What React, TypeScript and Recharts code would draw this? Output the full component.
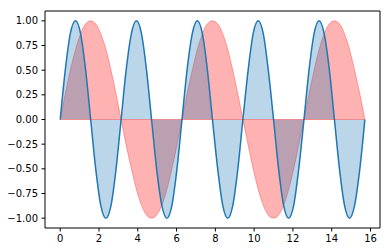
import React from "react";
import { ComposedChart, Area, XAxis, YAxis, ReferenceArea, ReferenceLine } from "recharts";

// x samples, 0 .. 5π
const xs = [
  0, 0.26, 0.52, 0.79, 1.05, 1.31, 1.57, 1.83, 2.09, 2.36, 2.62, 2.88,
  3.14, 3.4, 3.67, 3.93, 4.19, 4.45, 4.71, 4.97, 5.24, 5.5, 5.76, 6.02,
  6.28, 6.54, 6.81, 7.07, 7.33, 7.59, 7.85, 8.12, 8.38, 8.64, 8.9, 9.16,
  9.42, 9.69, 9.95, 10.21, 10.47, 10.73, 11.0, 11.26, 11.52, 11.78, 12.04, 12.3,
  12.57, 12.83, 13.09, 13.35, 13.61, 13.88, 14.14, 14.4, 14.66, 14.92, 15.18, 15.45,
  15.71,
];

// blue curve (fast wave)
const blue = [
  0, 0.5, 0.87, 1, 0.87, 0.5, 0, -0.5, -0.87, -1, -0.87, -0.5,
  0, 0.5, 0.87, 1, 0.87, 0.5, 0, -0.5, -0.87, -1, -0.87, -0.5,
  0, 0.5, 0.87, 1, 0.87, 0.5, 0, -0.5, -0.87, -1, -0.87, -0.5,
  0, 0.5, 0.87, 1, 0.87, 0.5, 0, -0.5, -0.87, -1, -0.87, -0.5,
  0, 0.5, 0.87, 1, 0.87, 0.5, 0, -0.5, -0.87, -1, -0.87, -0.5,
  0,
];

// red curve (slow wave)
const red = [
  0, 0.26, 0.5, 0.71, 0.87, 0.97, 1, 0.97, 0.87, 0.71, 0.5, 0.26,
  0, -0.26, -0.5, -0.71, -0.87, -0.97, -1, -0.97, -0.87, -0.71, -0.5, -0.26,
  0, 0.26, 0.5, 0.71, 0.87, 0.97, 1, 0.97, 0.87, 0.71, 0.5, 0.26,
  0, -0.26, -0.5, -0.71, -0.87, -0.97, -1, -0.97, -0.87, -0.71, -0.5, -0.26,
  0, 0.26, 0.5, 0.71, 0.87, 0.97, 1, 0.97, 0.87, 0.71, 0.5, 0.26,
  0,
];

const xTicks = [0, 2, 4, 6, 8, 10, 12, 14, 16];
const yTicks = [-1, -0.75, -0.5, -0.25, 0, 0.25, 0.5, 0.75, 1];

const data = xs.map((x, i) => ({ x, blue: blue[i], red: red[i] }));

const fmtY = (v: number) => (v < 0 ? "\u2212" : "") + Math.abs(v).toFixed(2);

const tickStyle = { fill: "#000", fontSize: 10, fontFamily: "DejaVu Sans" };

export default function App() {
  const x0 = xs[0];
  const x1 = xs[xs.length - 1];
  return (
    <div style={{ position: "absolute", left: 0, top: 0, width: 390, height: 252, background: "#fff" }}>
      <ComposedChart width={390} height={252} data={data} margin={{ top: 11, right: 10, bottom: 0, left: 0 }}>
        <XAxis
          dataKey="x"
          type="number"
          domain={[-0.785, 16.49]}
          ticks={xTicks}
          height={24}
          tick={tickStyle}
          tickSize={3.5}
          tickMargin={3.5}
          axisLine={false}
          tickLine={{ stroke: "#000" }}
          allowDataOverflow
        />
        <YAxis
          type="number"
          domain={[-1.1, 1.1]}
          ticks={yTicks}
          width={45}
          tick={tickStyle}
          tickSize={3.5}
          tickMargin={3.5}
          tickFormatter={fmtY}
          axisLine={false}
          tickLine={{ stroke: "#000" }}
          allowDataOverflow
        />
        <Area
          dataKey="red"
          type="monotone"
          baseValue={0}
          fill="red"
          fillOpacity={0.3}
          stroke="red"
          strokeOpacity={0.3}
          strokeWidth={1}
          isAnimationActive={false}
          dot={false}
          activeDot={false}
        />
        <Area
          dataKey="blue"
          type="monotone"
          baseValue={0}
          fill="#1f77b4"
          fillOpacity={0.3}
          stroke="#1f77b4"
          strokeWidth={1.5}
          isAnimationActive={false}
          dot={false}
          activeDot={false}
        />
        {/* fill_between polygon edge along the baseline */}
        <ReferenceLine
          segment={[{ x: x0, y: 0 }, { x: x1, y: 0 }]}
          stroke="red"
          strokeOpacity={0.3}
          strokeWidth={1}
        />
        <ReferenceArea
          x1={-0.785}
          x2={16.49}
          y1={-1.1}
          y2={1.1}
          fill="none"
          stroke="#000"
          strokeWidth={1}
          fillOpacity={0}
          ifOverflow="visible"
        />
      </ComposedChart>
    </div>
  );
}
